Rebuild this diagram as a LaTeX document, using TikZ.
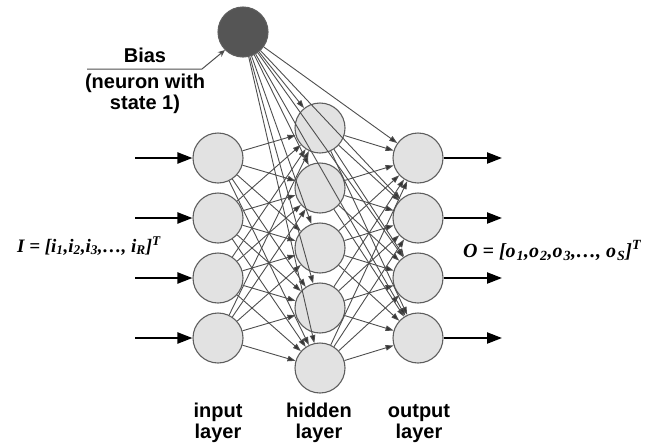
\documentclass[tikz,border=0pt]{standalone}
\usepackage{fontspec}
\setsansfont{Liberation Sans}
\setmainfont{Liberation Serif}
\usetikzlibrary{arrows.meta,positioning,calc}
\definecolor{nodeline}{HTML}{5E5E5E}
\definecolor{nodefill}{HTML}{E2E2E2}
\definecolor{biasfill}{HTML}{555555}
\definecolor{edge}{HTML}{4E4E4E}

\begin{document}
\begin{tikzpicture}[x=1pt,y=-1pt,
  nrn/.style={circle,draw=nodeline,fill=nodefill,line width=1.1pt,minimum size=50pt,inner sep=0pt},
  wt/.style={-{Triangle[length=8pt,width=5.5pt,fill=black!80]},draw=edge,line width=0.9pt},
  io/.style={-{Triangle[length=15pt,width=11pt]},line width=2.2pt},
  lbl/.style={font=\sffamily\bfseries\fontsize{20}{21}\selectfont,align=center,inner sep=0pt},
  eq/.style={font=\rmfamily\bfseries\itshape\fontsize{19}{22}\selectfont,inner sep=0pt}]

  \useasboundingbox (0,0) rectangle (652,445);

  % neurons
  \node[nrn,fill=biasfill] (b) at (243,32) {};

  \node[nrn] (i1) at (218,158) {};
  \node[nrn] (i2) at (218,218) {};
  \node[nrn] (i3) at (218,278) {};
  \node[nrn] (i4) at (218,338) {};

  \node[nrn] (h1) at (320,128) {};
  \node[nrn] (h2) at (320,188) {};
  \node[nrn] (h3) at (320,248) {};
  \node[nrn] (h4) at (320,308) {};
  \node[nrn] (h5) at (320,368) {};

  \node[nrn] (o1) at (418,158) {};
  \node[nrn] (o2) at (418,218) {};
  \node[nrn] (o3) at (418,278) {};
  \node[nrn] (o4) at (418,338) {};

  % weights
  \foreach \k in {1,...,4}
    \foreach \j in {1,...,5}
      \draw[wt] (i\k) -- (h\j);
  \foreach \j in {1,...,5}
    \foreach \k in {1,...,4}
      \draw[wt] (h\j) -- (o\k);
  \foreach \j in {1,...,5}
    \draw[wt] (b) -- (h\j);
  \foreach \k in {1,...,4}
    \draw[wt] (b) -- (o\k);

  % inputs and outputs
  \foreach \k/\y in {1/158,2/218,3/278,4/338} {
    \coordinate (x\k) at (135,\y);
    \coordinate (y\k) at (502,\y);
    \draw[io] (x\k) -- (i\k);
    \draw[io] (o\k) -- (y\k);
  }

  \node[eq,anchor=base east] (vi) at (161,252)
    {I = [i\textsubscript{1},i\textsubscript{2},i\textsubscript{3},\dots, i\textsubscript{R}]\textsuperscript{T}};
  \node[eq,font=\rmfamily\bfseries\itshape\fontsize{20}{24}\selectfont,anchor=base west] (vo) at (463,257)
    {O = [o\kern1pt\textsubscript{1},o\kern1pt\textsubscript{2},o\kern1pt\textsubscript{3},\dots, o\kern1pt\textsubscript{S}]\textsuperscript{T}};

  % bias label
  \node[lbl,anchor=base] (bt) at (145,62) {Bias};
  \node[lbl,anchor=base] (bn) at (145,88) {(neuron with};
  \node[lbl,anchor=base] (bs) at (145,109) {state 1)};
  \coordinate (u1) at (87,69);
  \coordinate (u2) at (202,69);
  \draw[-{Stealth[length=7pt,width=6pt]},draw=edge,line width=1pt] (u1) -- (u2) -- (b.225);

  % layer names
  \node[lbl,anchor=base] (li) at (218,438) {input\\layer};
  \node[lbl,anchor=base] (lh) at (319,438) {hidden\\layer};
  \node[lbl,anchor=base] (lo) at (419,438) {output\\layer};
\end{tikzpicture}
\end{document}
